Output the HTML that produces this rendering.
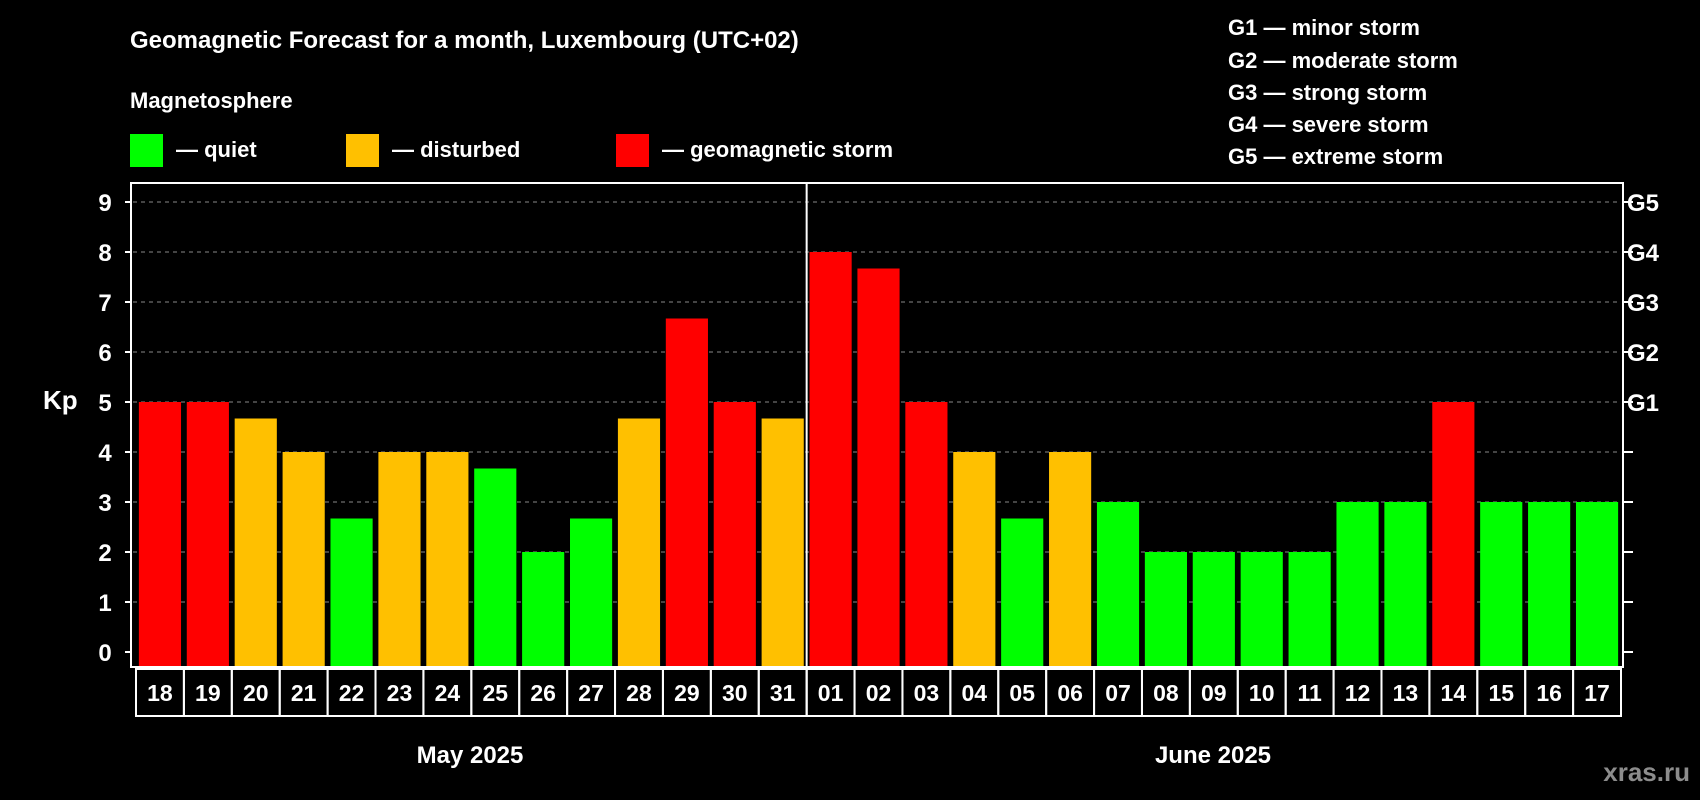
<!DOCTYPE html>
<html><head><meta charset="utf-8"><style>
body{margin:0;background:#000;}
svg{display:block;font-family:"Liberation Sans",Arial,sans-serif;font-weight:bold;}
</style></head><body>
<svg id="c" width="1700" height="800" viewBox="0 0 1700 800">
<rect width="1700" height="800" fill="#000"/>
<text x="130" y="48" fill="#fff" font-size="24">Geomagnetic Forecast for a month, Luxembourg (UTC+02)</text>
<text x="130" y="108" fill="#fff" font-size="22">Magnetosphere</text>
<g><rect x="130" y="134" width="33" height="33" fill="#00ff00"/><text x="176" y="157" fill="#fff" font-size="22">— quiet</text></g>
<g><rect x="346" y="134" width="33" height="33" fill="#ffc000"/><text x="392" y="157" fill="#fff" font-size="22">— disturbed</text></g>
<g><rect x="616" y="134" width="33" height="33" fill="#ff0000"/><text x="662" y="157" fill="#fff" font-size="22">— geomagnetic storm</text></g>
<g fill="#fff" font-size="22">
<text x="1228" y="35">G1 — minor storm</text>
<text x="1228" y="68">G2 — moderate storm</text>
<text x="1228" y="100">G3 — strong storm</text>
<text x="1228" y="132">G4 — severe storm</text>
<text x="1228" y="164">G5 — extreme storm</text>
</g>
<text x="43" y="409" fill="#fff" font-size="26">Kp</text>
<g id="plot"></g>
<text x="470" y="763" fill="#fff" font-size="24" text-anchor="middle">May 2025</text>
<text x="1213" y="763" fill="#fff" font-size="24" text-anchor="middle">June 2025</text>
<text x="1690" y="781" fill="#8c8c8c" font-size="26" text-anchor="end">xras.ru</text>
</svg>
<script>
const days=["18","19","20","21","22","23","24","25","26","27","28","29","30","31","01","02","03","04","05","06","07","08","09","10","11","12","13","14","15","16","17"];
const kp=[5,5,4.67,4,2.67,4,4,3.67,2,2.67,4.67,6.67,5,4.67,8,7.67,5,4,2.67,4,3,2,2,2,2,3,3,5,3,3,3];
const yTicks=[0,1,2,3,4,5,6,7,8,9];
const gLabels=["G1","G2","G3","G4","G5"];
const gLevels=[5,6,7,8,9];
const NS="http://www.w3.org/2000/svg";
const g=document.getElementById('plot');
const L=131,R=1623,T=183,B=667,cx0=136,cx1=1621;
const pitch=(cx1-cx0)/days.length;
const y=v=>652-v*50;
const x=i=>cx0+i*pitch;
function mk(t,a){const e=document.createElementNS(NS,t);for(const k in a)e.setAttribute(k,a[k]);g.appendChild(e);return e;}
yTicks.forEach(v=>{
  if(v>0){const l=mk('line',{x1:L+2,x2:R-2,y1:y(v),y2:y(v),stroke:'#888','stroke-dasharray':'4,4','stroke-width':1});
  
  }
  const t1=mk('line',{x1:L-6,x2:L,y1:y(v),y2:y(v),stroke:'#fff','stroke-width':2});
  
  
  const t2=mk('line',{x1:R,x2:R+10,y1:y(v),y2:y(v),stroke:'#fff','stroke-width':2});
  
  
  const tx=mk('text',{x:105,y:y(v)+9,fill:'#fff','font-size':24,'text-anchor':'middle'});tx.textContent=v;
  
  
});
gLabels.forEach((s,i)=>{
  const t=mk('text',{x:1643,y:y(gLevels[i])+9,fill:'#fff','font-size':24,'text-anchor':'middle'});t.textContent=s;
  
  
});
kp.forEach((v,i)=>{
  const c=v>=5?'#ff0000':v>=4?'#ffc000':'#00ff00';
  const bw=pitch*0.88;
  const r=mk('rect',{x:x(i)+(pitch-bw)/2,y:y(v),width:bw,height:y(0)+14-y(v),fill:c});
  
  
  const cell=mk('rect',{x:x(i),y:669,width:pitch,height:47,fill:'none',stroke:'#fff','stroke-width':2});
  
  
  const t=mk('text',{x:x(i)+pitch/2,y:701,fill:'#fff','font-size':23,'text-anchor':'middle'});t.textContent=days[i];
  
  
});
const fr=mk('rect',{x:L,y:T,width:R-L,height:B-T,fill:'none',stroke:'#fff','stroke-width':2});


const dv=mk('line',{x1:x(14),x2:x(14),y1:T,y2:716,stroke:'#fff','stroke-width':2});


</script>
</body></html>
